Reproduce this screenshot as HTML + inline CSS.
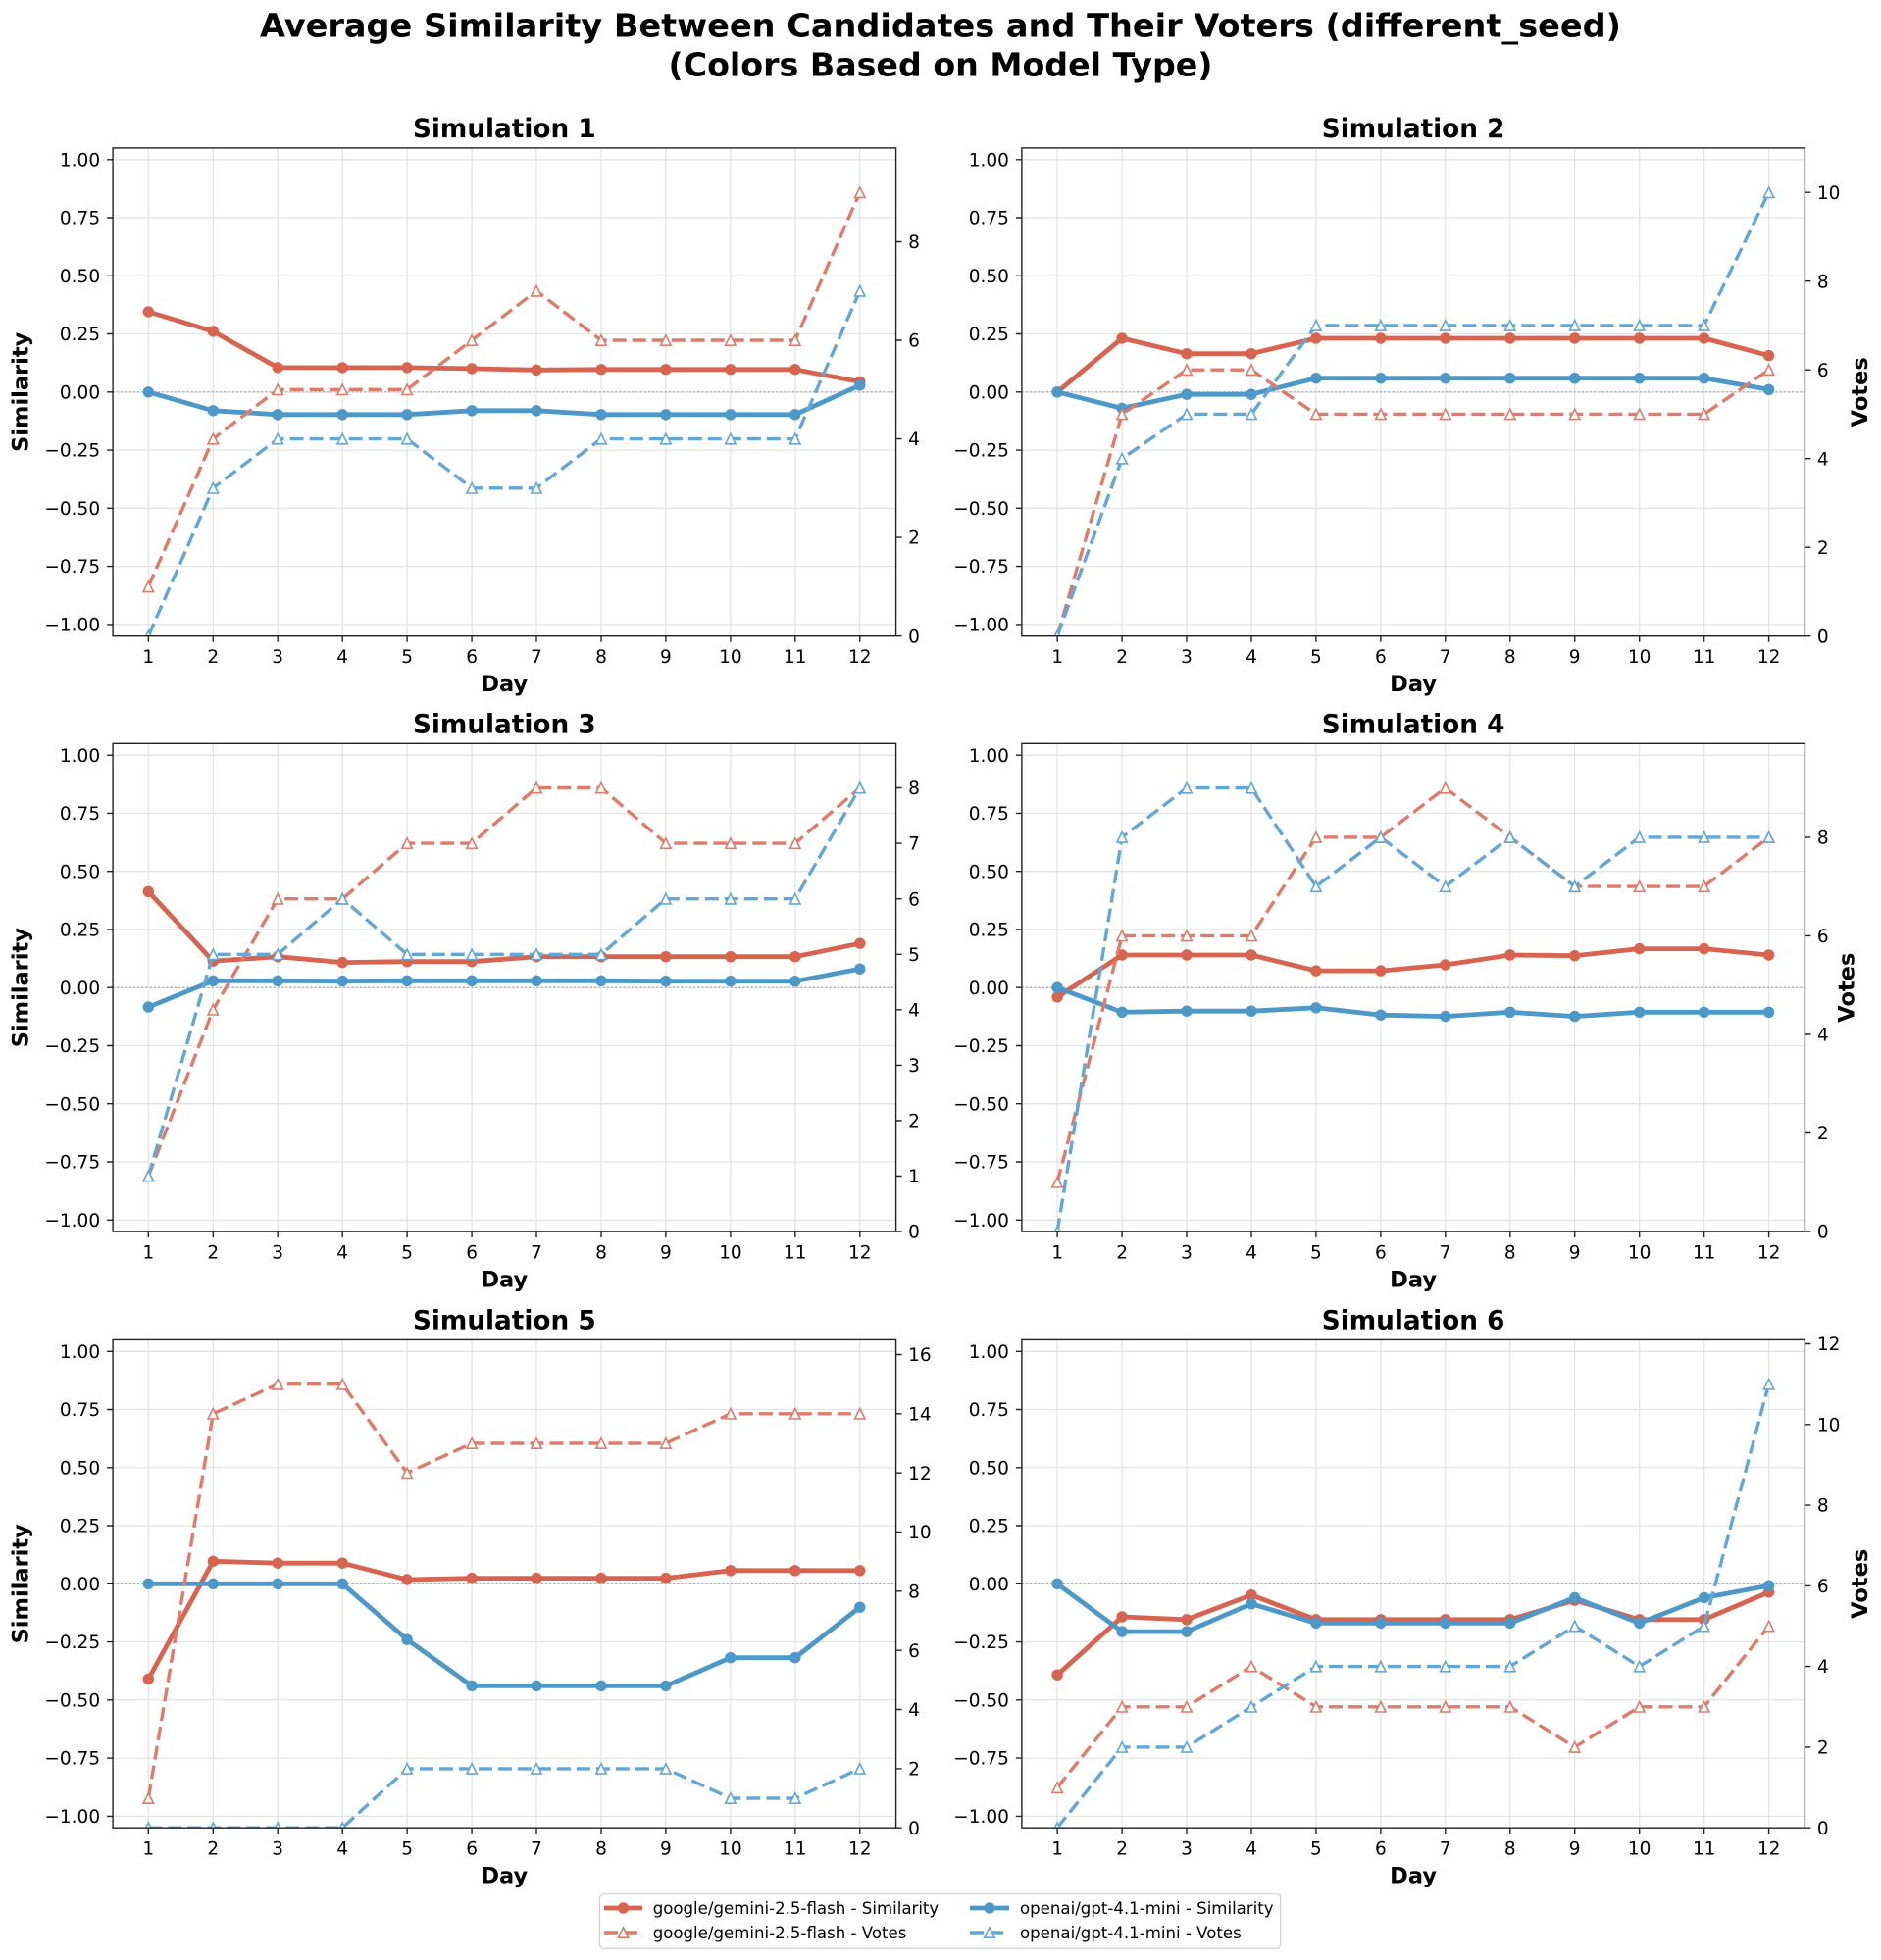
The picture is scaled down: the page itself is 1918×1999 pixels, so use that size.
<!DOCTYPE html>
<html><head><meta charset="utf-8"><style>
body{margin:0;background:#fff}
svg{display:block}
text{font-family:"DejaVu Sans","Liberation Sans",sans-serif;fill:#000}
.tl{font-size:18.5px}
.al{font-size:22.5px;font-weight:bold}
.st{font-size:26.3px;font-weight:bold}
.mt{font-size:33px;font-weight:bold}
.lg{font-size:16.6px}
.g{stroke:#e4e4e4;stroke-width:1.3;fill:none}
.z{stroke:#a3a3a3;stroke-width:1.3;stroke-dasharray:1.6 2.6}
.sr{fill:none;stroke:#d8634f;stroke-width:4.8;stroke-linejoin:round;marker-start:url(#cr);marker-mid:url(#cr);marker-end:url(#cr)}
.sb{fill:none;stroke:#4b98c9;stroke-width:4.8;stroke-linejoin:round;marker-start:url(#cb);marker-mid:url(#cb);marker-end:url(#cb)}
.vr{fill:none;stroke:#e07a6a;stroke-width:3.4;stroke-dasharray:14 6;marker-start:url(#tr);marker-mid:url(#tr);marker-end:url(#tr)}
.vb{fill:none;stroke:#62a7d5;stroke-width:3.4;stroke-dasharray:14 6;marker-start:url(#tb);marker-mid:url(#tb);marker-end:url(#tb)}
.sp{fill:none;stroke:#222;stroke-width:1.4}
.tk{stroke:#222;stroke-width:1.4;fill:none}
</style></head><body>
<svg width="1918" height="1999" viewBox="0 0 1918 1999" xmlns="http://www.w3.org/2000/svg">
<defs>
<clipPath id="clip"><rect x="0" y="0" width="798.5" height="497.8"/></clipPath>
<marker id="cr" markerUnits="userSpaceOnUse" markerWidth="14" markerHeight="14" refX="7" refY="7" overflow="visible"><circle cx="7" cy="7" r="5.7" fill="#d8634f"/></marker>
<marker id="cb" markerUnits="userSpaceOnUse" markerWidth="14" markerHeight="14" refX="7" refY="7" overflow="visible"><circle cx="7" cy="7" r="5.7" fill="#4b98c9"/></marker>
<marker id="tr" markerUnits="userSpaceOnUse" markerWidth="14" markerHeight="14" refX="7" refY="7" overflow="visible"><path d="M7 1.8L1.8 12.2H12.2Z" fill="#fff" stroke="#e07a6a" stroke-width="1.6"/></marker>
<marker id="tb" markerUnits="userSpaceOnUse" markerWidth="14" markerHeight="14" refX="7" refY="7" overflow="visible"><path d="M7 1.8L1.8 12.2H12.2Z" fill="#fff" stroke="#62a7d5" stroke-width="1.6"/></marker>
</defs>
<rect width="1918" height="1999" fill="#fff"/>

<text class="mt" x="959" y="37.3" text-anchor="middle" textLength="1388" lengthAdjust="spacingAndGlyphs">Average Similarity Between Candidates and Their Voters (different_seed)</text>
<text class="mt" x="959" y="77.3" text-anchor="middle" textLength="555" lengthAdjust="spacingAndGlyphs">(Colors Based on Model Type)</text>

<!-- Panel 1 -->
<g transform="translate(115.1,150.9)">
<path class="g" d="M36.2 0V497.8M102.2 0V497.8M168.1 0V497.8M234.1 0V497.8M300 0V497.8M366 0V497.8M431.9 0V497.8M497.9 0V497.8M563.8 0V497.8M629.8 0V497.8M695.7 0V497.8M761.7 0V497.8M0 11.9H798.5M0 71.1H798.5M0 130.4H798.5M0 189.6H798.5M0 248.9H798.5M0 308.2H798.5M0 367.4H798.5M0 426.7H798.5M0 486H798.5"/>
<line class="z" x1="0" y1="248.9" x2="798.5" y2="248.9"/>
<g clip-path="url(#clip)">
<polyline class="sr" points="36.2,167.1 102.2,187.0 168.1,224.0 234.1,224.0 300,224.0 366,225.0 431.9,226.4 497.9,225.9 563.8,225.9 629.8,225.9 695.7,225.9 761.7,238.5"/>
<polyline class="sb" points="36.2,248.9 102.2,267.9 168.1,271.9 234.1,271.9 300,271.9 366,267.9 431.9,267.9 497.9,271.9 563.8,271.9 629.8,271.9 695.7,271.9 761.7,242.0"/>
<polyline class="vr" points="36.2,447.5 102.2,296.7 168.1,246.4 234.1,246.4 300,246.4 366,196.1 431.9,145.8 497.9,196.1 563.8,196.1 629.8,196.1 695.7,196.1 761.7,45.3"/>
<polyline class="vb" points="36.2,497.8 102.2,346.9 168.1,296.7 234.1,296.7 300,296.7 366,346.9 431.9,346.9 497.9,296.7 563.8,296.7 629.8,296.7 695.7,296.7 761.7,145.8"/>
</g>
<rect class="sp" x="0" y="0" width="798.5" height="497.8"/>
<path class="tk" d="M0 11.9h-6M0 71.1h-6M0 130.4h-6M0 189.6h-6M0 248.9h-6M0 308.2h-6M0 367.4h-6M0 426.7h-6M0 486h-6M36.2 497.8v6M102.2 497.8v6M168.1 497.8v6M234.1 497.8v6M300 497.8v6M366 497.8v6M431.9 497.8v6M497.9 497.8v6M563.8 497.8v6M629.8 497.8v6M695.7 497.8v6M761.7 497.8v6M798.5 497.8h6M798.5 397.2h6M798.5 296.7h6M798.5 196.1h6M798.5 95.6h6"/>
<g class="tl" text-anchor="end"><text x="-13" y="18.5">1.00</text><text x="-13" y="77.7">0.75</text><text x="-13" y="137">0.50</text><text x="-13" y="196.2">0.25</text><text x="-13" y="255.5">0.00</text><text x="-13" y="314.8">−0.25</text><text x="-13" y="374">−0.50</text><text x="-13" y="433.3">−0.75</text><text x="-13" y="492.6">−1.00</text></g>
<g class="tl" text-anchor="middle"><text x="36.2" y="525.1">1</text><text x="102.2" y="525.1">2</text><text x="168.1" y="525.1">3</text><text x="234.1" y="525.1">4</text><text x="300" y="525.1">5</text><text x="366" y="525.1">6</text><text x="431.9" y="525.1">7</text><text x="497.9" y="525.1">8</text><text x="563.8" y="525.1">9</text><text x="629.8" y="525.1">10</text><text x="695.7" y="525.1">11</text><text x="761.7" y="525.1">12</text></g>
<g class="tl"><text x="811" y="504.4">0</text><text x="811" y="403.8">2</text><text x="811" y="303.3">4</text><text x="811" y="202.7">6</text><text x="811" y="102.2">8</text></g>
<text class="al" x="399.2" y="554.1" text-anchor="middle">Day</text>
<text class="st" x="399.2" y="-10.9" text-anchor="middle">Simulation 1</text>
<text class="al" transform="translate(-86.7,248.9) rotate(-90)" text-anchor="middle">Similarity</text>
</g>

<!-- Panel 2 -->
<g transform="translate(1041.9,150.9)">
<path class="g" d="M36.2 0V497.8M102.2 0V497.8M168.1 0V497.8M234.1 0V497.8M300 0V497.8M366 0V497.8M431.9 0V497.8M497.9 0V497.8M563.8 0V497.8M629.8 0V497.8M695.7 0V497.8M761.7 0V497.8M0 11.9H798.5M0 71.1H798.5M0 130.4H798.5M0 189.6H798.5M0 248.9H798.5M0 308.2H798.5M0 367.4H798.5M0 426.7H798.5M0 486H798.5"/>
<line class="z" x1="0" y1="248.9" x2="798.5" y2="248.9"/>
<g clip-path="url(#clip)">
<polyline class="sr" points="36.2,248.9 102.2,194.1 168.1,209.8 234.1,209.8 300,194.1 366,194.1 431.9,194.1 497.9,194.1 563.8,194.1 629.8,194.1 695.7,194.1 761.7,211.7"/>
<polyline class="sb" points="36.2,248.9 102.2,265.5 168.1,251.3 234.1,251.3 300,234.8 366,234.8 431.9,234.8 497.9,234.8 563.8,234.8 629.8,234.8 695.7,234.8 761.7,246.4"/>
<polyline class="vr" points="36.2,497.8 102.2,271.5 168.1,226.3 234.1,226.3 300,271.5 366,271.5 431.9,271.5 497.9,271.5 563.8,271.5 629.8,271.5 695.7,271.5 761.7,226.3"/>
<polyline class="vb" points="36.2,497.8 102.2,316.8 168.1,271.5 234.1,271.5 300,181.0 366,181.0 431.9,181.0 497.9,181.0 563.8,181.0 629.8,181.0 695.7,181.0 761.7,45.3"/>
</g>
<rect class="sp" x="0" y="0" width="798.5" height="497.8"/>
<path class="tk" d="M0 11.9h-6M0 71.1h-6M0 130.4h-6M0 189.6h-6M0 248.9h-6M0 308.2h-6M0 367.4h-6M0 426.7h-6M0 486h-6M36.2 497.8v6M102.2 497.8v6M168.1 497.8v6M234.1 497.8v6M300 497.8v6M366 497.8v6M431.9 497.8v6M497.9 497.8v6M563.8 497.8v6M629.8 497.8v6M695.7 497.8v6M761.7 497.8v6M798.5 497.8h6M798.5 407.3h6M798.5 316.8h6M798.5 226.3h6M798.5 135.8h6M798.5 45.3h6"/>
<g class="tl" text-anchor="end"><text x="-13" y="18.5">1.00</text><text x="-13" y="77.7">0.75</text><text x="-13" y="137">0.50</text><text x="-13" y="196.2">0.25</text><text x="-13" y="255.5">0.00</text><text x="-13" y="314.8">−0.25</text><text x="-13" y="374">−0.50</text><text x="-13" y="433.3">−0.75</text><text x="-13" y="492.6">−1.00</text></g>
<g class="tl" text-anchor="middle"><text x="36.2" y="525.1">1</text><text x="102.2" y="525.1">2</text><text x="168.1" y="525.1">3</text><text x="234.1" y="525.1">4</text><text x="300" y="525.1">5</text><text x="366" y="525.1">6</text><text x="431.9" y="525.1">7</text><text x="497.9" y="525.1">8</text><text x="563.8" y="525.1">9</text><text x="629.8" y="525.1">10</text><text x="695.7" y="525.1">11</text><text x="761.7" y="525.1">12</text></g>
<g class="tl"><text x="811" y="504.4">0</text><text x="811" y="413.9">2</text><text x="811" y="323.4">4</text><text x="811" y="232.9">6</text><text x="811" y="142.4">8</text><text x="811" y="51.9">10</text></g>
<text class="al" x="399.2" y="554.1" text-anchor="middle">Day</text>
<text class="st" x="399.2" y="-10.9" text-anchor="middle">Simulation 2</text>
<text class="al" transform="translate(862.1,248.9) rotate(-90)" text-anchor="middle">Votes</text>
</g>

<!-- Panel 3 -->
<g transform="translate(115.1,758.3)">
<path class="g" d="M36.2 0V497.8M102.2 0V497.8M168.1 0V497.8M234.1 0V497.8M300 0V497.8M366 0V497.8M431.9 0V497.8M497.9 0V497.8M563.8 0V497.8M629.8 0V497.8M695.7 0V497.8M761.7 0V497.8M0 11.9H798.5M0 71.1H798.5M0 130.4H798.5M0 189.6H798.5M0 248.9H798.5M0 308.2H798.5M0 367.4H798.5M0 426.7H798.5M0 486H798.5"/>
<line class="z" x1="0" y1="248.9" x2="798.5" y2="248.9"/>
<g clip-path="url(#clip)">
<polyline class="sr" points="36.2,151.0 102.2,221.9 168.1,217.4 234.1,223.3 300,222.4 366,222.4 431.9,217.4 497.9,217.4 563.8,217.4 629.8,217.4 695.7,217.4 761.7,203.9"/>
<polyline class="sb" points="36.2,268.8 102.2,242.0 168.1,242.0 234.1,242.3 300,242.0 366,242.0 431.9,242.0 497.9,242.0 563.8,242.4 629.8,242.4 695.7,242.4 761.7,229.9"/>
<polyline class="vr" points="36.2,441.2 102.2,271.5 168.1,158.4 234.1,158.4 300,101.8 366,101.8 431.9,45.2 497.9,45.2 563.8,101.8 629.8,101.8 695.7,101.8 761.7,45.2"/>
<polyline class="vb" points="36.2,441.2 102.2,215.0 168.1,215.0 234.1,158.4 300,215.0 366,215.0 431.9,215.0 497.9,215.0 563.8,158.4 629.8,158.4 695.7,158.4 761.7,45.2"/>
</g>
<rect class="sp" x="0" y="0" width="798.5" height="497.8"/>
<path class="tk" d="M0 11.9h-6M0 71.1h-6M0 130.4h-6M0 189.6h-6M0 248.9h-6M0 308.2h-6M0 367.4h-6M0 426.7h-6M0 486h-6M36.2 497.8v6M102.2 497.8v6M168.1 497.8v6M234.1 497.8v6M300 497.8v6M366 497.8v6M431.9 497.8v6M497.9 497.8v6M563.8 497.8v6M629.8 497.8v6M695.7 497.8v6M761.7 497.8v6M798.5 497.8h6M798.5 441.2h6M798.5 384.7h6M798.5 328.1h6M798.5 271.5h6M798.5 215h6M798.5 158.4h6M798.5 101.8h6M798.5 45.2h6"/>
<g class="tl" text-anchor="end"><text x="-13" y="18.5">1.00</text><text x="-13" y="77.7">0.75</text><text x="-13" y="137">0.50</text><text x="-13" y="196.2">0.25</text><text x="-13" y="255.5">0.00</text><text x="-13" y="314.8">−0.25</text><text x="-13" y="374">−0.50</text><text x="-13" y="433.3">−0.75</text><text x="-13" y="492.6">−1.00</text></g>
<g class="tl" text-anchor="middle"><text x="36.2" y="525.1">1</text><text x="102.2" y="525.1">2</text><text x="168.1" y="525.1">3</text><text x="234.1" y="525.1">4</text><text x="300" y="525.1">5</text><text x="366" y="525.1">6</text><text x="431.9" y="525.1">7</text><text x="497.9" y="525.1">8</text><text x="563.8" y="525.1">9</text><text x="629.8" y="525.1">10</text><text x="695.7" y="525.1">11</text><text x="761.7" y="525.1">12</text></g>
<g class="tl"><text x="811" y="504.4">0</text><text x="811" y="447.8">1</text><text x="811" y="391.3">2</text><text x="811" y="334.7">3</text><text x="811" y="278.1">4</text><text x="811" y="221.6">5</text><text x="811" y="165">6</text><text x="811" y="108.4">7</text><text x="811" y="51.8">8</text></g>
<text class="al" x="399.2" y="554.1" text-anchor="middle">Day</text>
<text class="st" x="399.2" y="-10.9" text-anchor="middle">Simulation 3</text>
<text class="al" transform="translate(-86.7,248.9) rotate(-90)" text-anchor="middle">Similarity</text>
</g>

<!-- Panel 4 -->
<g transform="translate(1041.9,758.3)">
<path class="g" d="M36.2 0V497.8M102.2 0V497.8M168.1 0V497.8M234.1 0V497.8M300 0V497.8M366 0V497.8M431.9 0V497.8M497.9 0V497.8M563.8 0V497.8M629.8 0V497.8M695.7 0V497.8M761.7 0V497.8M0 11.9H798.5M0 71.1H798.5M0 130.4H798.5M0 189.6H798.5M0 248.9H798.5M0 308.2H798.5M0 367.4H798.5M0 426.7H798.5M0 486H798.5"/>
<line class="z" x1="0" y1="248.9" x2="798.5" y2="248.9"/>
<g clip-path="url(#clip)">
<polyline class="sr" points="36.2,258.6 102.2,215.7 168.1,215.7 234.1,215.7 300,231.8 366,231.8 431.9,225.7 497.9,215.7 563.8,216.4 629.8,209.3 695.7,209.3 761.7,215.7"/>
<polyline class="sb" points="36.2,248.9 102.2,274.0 168.1,272.9 234.1,272.9 300,269.5 366,276.9 431.9,278.3 497.9,274.0 563.8,278.3 629.8,274.0 695.7,274.0 761.7,274.0"/>
<polyline class="vr" points="36.2,447.5 102.2,196.1 168.1,196.1 234.1,196.1 300,95.6 366,95.6 431.9,45.3 497.9,95.6 563.8,145.8 629.8,145.8 695.7,145.8 761.7,95.6"/>
<polyline class="vb" points="36.2,497.8 102.2,95.6 168.1,45.3 234.1,45.3 300,145.8 366,95.6 431.9,145.8 497.9,95.6 563.8,145.8 629.8,95.6 695.7,95.6 761.7,95.6"/>
</g>
<rect class="sp" x="0" y="0" width="798.5" height="497.8"/>
<path class="tk" d="M0 11.9h-6M0 71.1h-6M0 130.4h-6M0 189.6h-6M0 248.9h-6M0 308.2h-6M0 367.4h-6M0 426.7h-6M0 486h-6M36.2 497.8v6M102.2 497.8v6M168.1 497.8v6M234.1 497.8v6M300 497.8v6M366 497.8v6M431.9 497.8v6M497.9 497.8v6M563.8 497.8v6M629.8 497.8v6M695.7 497.8v6M761.7 497.8v6M798.5 497.8h6M798.5 397.2h6M798.5 296.7h6M798.5 196.1h6M798.5 95.6h6"/>
<g class="tl" text-anchor="end"><text x="-13" y="18.5">1.00</text><text x="-13" y="77.7">0.75</text><text x="-13" y="137">0.50</text><text x="-13" y="196.2">0.25</text><text x="-13" y="255.5">0.00</text><text x="-13" y="314.8">−0.25</text><text x="-13" y="374">−0.50</text><text x="-13" y="433.3">−0.75</text><text x="-13" y="492.6">−1.00</text></g>
<g class="tl" text-anchor="middle"><text x="36.2" y="525.1">1</text><text x="102.2" y="525.1">2</text><text x="168.1" y="525.1">3</text><text x="234.1" y="525.1">4</text><text x="300" y="525.1">5</text><text x="366" y="525.1">6</text><text x="431.9" y="525.1">7</text><text x="497.9" y="525.1">8</text><text x="563.8" y="525.1">9</text><text x="629.8" y="525.1">10</text><text x="695.7" y="525.1">11</text><text x="761.7" y="525.1">12</text></g>
<g class="tl"><text x="811" y="504.4">0</text><text x="811" y="403.8">2</text><text x="811" y="303.3">4</text><text x="811" y="202.7">6</text><text x="811" y="102.2">8</text></g>
<text class="al" x="399.2" y="554.1" text-anchor="middle">Day</text>
<text class="st" x="399.2" y="-10.9" text-anchor="middle">Simulation 4</text>
<text class="al" transform="translate(848.7,248.9) rotate(-90)" text-anchor="middle">Votes</text>
</g>

<!-- Panel 5 -->
<g transform="translate(115.1,1366.4)">
<path class="g" d="M36.2 0V497.8M102.2 0V497.8M168.1 0V497.8M234.1 0V497.8M300 0V497.8M366 0V497.8M431.9 0V497.8M497.9 0V497.8M563.8 0V497.8M629.8 0V497.8M695.7 0V497.8M761.7 0V497.8M0 11.9H798.5M0 71.1H798.5M0 130.4H798.5M0 189.6H798.5M0 248.9H798.5M0 308.2H798.5M0 367.4H798.5M0 426.7H798.5M0 486H798.5"/>
<line class="z" x1="0" y1="248.9" x2="798.5" y2="248.9"/>
<g clip-path="url(#clip)">
<polyline class="sr" points="36.2,346.1 102.2,225.9 168.1,227.8 234.1,227.8 300,244.6 366,243.2 431.9,243.2 497.9,243.2 563.8,243.2 629.8,235.4 695.7,235.4 761.7,235.4"/>
<polyline class="sb" points="36.2,248.9 102.2,248.9 168.1,248.9 234.1,248.9 300,305.8 366,353.0 431.9,353.0 497.9,353.0 563.8,353.0 629.8,324.3 695.7,324.3 761.7,272.8"/>
<polyline class="vr" points="36.2,467.6 102.2,75.4 168.1,45.3 234.1,45.3 300,135.8 366,105.6 431.9,105.6 497.9,105.6 563.8,105.6 629.8,75.4 695.7,75.4 761.7,75.4"/>
<polyline class="vb" points="36.2,497.8 102.2,497.8 168.1,497.8 234.1,497.8 300,437.5 366,437.5 431.9,437.5 497.9,437.5 563.8,437.5 629.8,467.6 695.7,467.6 761.7,437.5"/>
</g>
<rect class="sp" x="0" y="0" width="798.5" height="497.8"/>
<path class="tk" d="M0 11.9h-6M0 71.1h-6M0 130.4h-6M0 189.6h-6M0 248.9h-6M0 308.2h-6M0 367.4h-6M0 426.7h-6M0 486h-6M36.2 497.8v6M102.2 497.8v6M168.1 497.8v6M234.1 497.8v6M300 497.8v6M366 497.8v6M431.9 497.8v6M497.9 497.8v6M563.8 497.8v6M629.8 497.8v6M695.7 497.8v6M761.7 497.8v6M798.5 497.8h6M798.5 437.5h6M798.5 377.1h6M798.5 316.8h6M798.5 256.4h6M798.5 196.1h6M798.5 135.8h6M798.5 75.4h6M798.5 15.1h6"/>
<g class="tl" text-anchor="end"><text x="-13" y="18.5">1.00</text><text x="-13" y="77.7">0.75</text><text x="-13" y="137">0.50</text><text x="-13" y="196.2">0.25</text><text x="-13" y="255.5">0.00</text><text x="-13" y="314.8">−0.25</text><text x="-13" y="374">−0.50</text><text x="-13" y="433.3">−0.75</text><text x="-13" y="492.6">−1.00</text></g>
<g class="tl" text-anchor="middle"><text x="36.2" y="525.1">1</text><text x="102.2" y="525.1">2</text><text x="168.1" y="525.1">3</text><text x="234.1" y="525.1">4</text><text x="300" y="525.1">5</text><text x="366" y="525.1">6</text><text x="431.9" y="525.1">7</text><text x="497.9" y="525.1">8</text><text x="563.8" y="525.1">9</text><text x="629.8" y="525.1">10</text><text x="695.7" y="525.1">11</text><text x="761.7" y="525.1">12</text></g>
<g class="tl"><text x="811" y="504.4">0</text><text x="811" y="444.1">2</text><text x="811" y="383.7">4</text><text x="811" y="323.4">6</text><text x="811" y="263">8</text><text x="811" y="202.7">10</text><text x="811" y="142.4">12</text><text x="811" y="82">14</text><text x="811" y="21.7">16</text></g>
<text class="al" x="399.2" y="554.1" text-anchor="middle">Day</text>
<text class="st" x="399.2" y="-10.9" text-anchor="middle">Simulation 5</text>
<text class="al" transform="translate(-86.7,248.9) rotate(-90)" text-anchor="middle">Similarity</text>
</g>

<!-- Panel 6 -->
<g transform="translate(1041.9,1366.4)">
<path class="g" d="M36.2 0V497.8M102.2 0V497.8M168.1 0V497.8M234.1 0V497.8M300 0V497.8M366 0V497.8M431.9 0V497.8M497.9 0V497.8M563.8 0V497.8M629.8 0V497.8M695.7 0V497.8M761.7 0V497.8M0 11.9H798.5M0 71.1H798.5M0 130.4H798.5M0 189.6H798.5M0 248.9H798.5M0 308.2H798.5M0 367.4H798.5M0 426.7H798.5M0 486H798.5"/>
<line class="z" x1="0" y1="248.9" x2="798.5" y2="248.9"/>
<g clip-path="url(#clip)">
<polyline class="sr" points="36.2,341.8 102.2,282.6 168.1,285.4 234.1,260.3 300,285.4 366,285.4 431.9,285.4 497.9,285.4 563.8,265.7 629.8,285.4 695.7,285.4 761.7,257.4"/>
<polyline class="sb" points="36.2,248.9 102.2,297.7 168.1,297.7 234.1,269.3 300,289.0 366,289.0 431.9,289.0 497.9,289.0 563.8,263.1 629.8,289.0 695.7,263.1 761.7,250.8"/>
<polyline class="vr" points="36.2,456.7 102.2,374.4 168.1,374.4 234.1,333.2 300,374.4 366,374.4 431.9,374.4 497.9,374.4 563.8,415.5 629.8,374.4 695.7,374.4 761.7,292.1"/>
<polyline class="vb" points="36.2,497.8 102.2,415.5 168.1,415.5 234.1,374.4 300,333.2 366,333.2 431.9,333.2 497.9,333.2 563.8,292.1 629.8,333.2 695.7,292.1 761.7,45.3"/>
</g>
<rect class="sp" x="0" y="0" width="798.5" height="497.8"/>
<path class="tk" d="M0 11.9h-6M0 71.1h-6M0 130.4h-6M0 189.6h-6M0 248.9h-6M0 308.2h-6M0 367.4h-6M0 426.7h-6M0 486h-6M36.2 497.8v6M102.2 497.8v6M168.1 497.8v6M234.1 497.8v6M300 497.8v6M366 497.8v6M431.9 497.8v6M497.9 497.8v6M563.8 497.8v6M629.8 497.8v6M695.7 497.8v6M761.7 497.8v6M798.5 497.8h6M798.5 415.5h6M798.5 333.2h6M798.5 251h6M798.5 168.7h6M798.5 86.4h6M798.5 4.1h6"/>
<g class="tl" text-anchor="end"><text x="-13" y="18.5">1.00</text><text x="-13" y="77.7">0.75</text><text x="-13" y="137">0.50</text><text x="-13" y="196.2">0.25</text><text x="-13" y="255.5">0.00</text><text x="-13" y="314.8">−0.25</text><text x="-13" y="374">−0.50</text><text x="-13" y="433.3">−0.75</text><text x="-13" y="492.6">−1.00</text></g>
<g class="tl" text-anchor="middle"><text x="36.2" y="525.1">1</text><text x="102.2" y="525.1">2</text><text x="168.1" y="525.1">3</text><text x="234.1" y="525.1">4</text><text x="300" y="525.1">5</text><text x="366" y="525.1">6</text><text x="431.9" y="525.1">7</text><text x="497.9" y="525.1">8</text><text x="563.8" y="525.1">9</text><text x="629.8" y="525.1">10</text><text x="695.7" y="525.1">11</text><text x="761.7" y="525.1">12</text></g>
<g class="tl"><text x="811" y="504.4">0</text><text x="811" y="422.1">2</text><text x="811" y="339.8">4</text><text x="811" y="257.6">6</text><text x="811" y="175.3">8</text><text x="811" y="93">10</text><text x="811" y="10.7">12</text></g>
<text class="al" x="399.2" y="554.1" text-anchor="middle">Day</text>
<text class="st" x="399.2" y="-10.9" text-anchor="middle">Simulation 6</text>
<text class="al" transform="translate(862.1,248.9) rotate(-90)" text-anchor="middle">Votes</text>
</g>

<!-- Legend -->
<rect x="611.5" y="1931.7" width="694.2" height="55.6" rx="4" fill="#fff" stroke="#cfcfcf" stroke-width="1.2"/>
<line x1="616" y1="1946" x2="655" y2="1946" stroke="#d8634f" stroke-width="4.8"/>
<circle cx="635.5" cy="1946" r="5.7" fill="#d8634f"/>
<line x1="616" y1="1971" x2="655" y2="1971" stroke="#e07a6a" stroke-width="3.4" stroke-dasharray="14 6"/>
<path d="M635.5 1965.8L630.3 1976.2H640.7Z" fill="#fff" stroke="#e07a6a" stroke-width="1.6"/>
<text class="lg" x="665.7" y="1952">google/gemini-2.5-flash - Similarity</text>
<text class="lg" x="665.7" y="1977">google/gemini-2.5-flash - Votes</text>
<line x1="989" y1="1946" x2="1029" y2="1946" stroke="#4b98c9" stroke-width="4.8"/>
<circle cx="1009" cy="1946" r="5.7" fill="#4b98c9"/>
<line x1="989" y1="1971" x2="1029" y2="1971" stroke="#62a7d5" stroke-width="3.4" stroke-dasharray="14 6"/>
<path d="M1009 1965.8L1003.8 1976.2H1014.2Z" fill="#fff" stroke="#62a7d5" stroke-width="1.6"/>
<text class="lg" x="1040" y="1952">openai/gpt-4.1-mini - Similarity</text>
<text class="lg" x="1040" y="1977">openai/gpt-4.1-mini - Votes</text>
</svg>
</body></html>
